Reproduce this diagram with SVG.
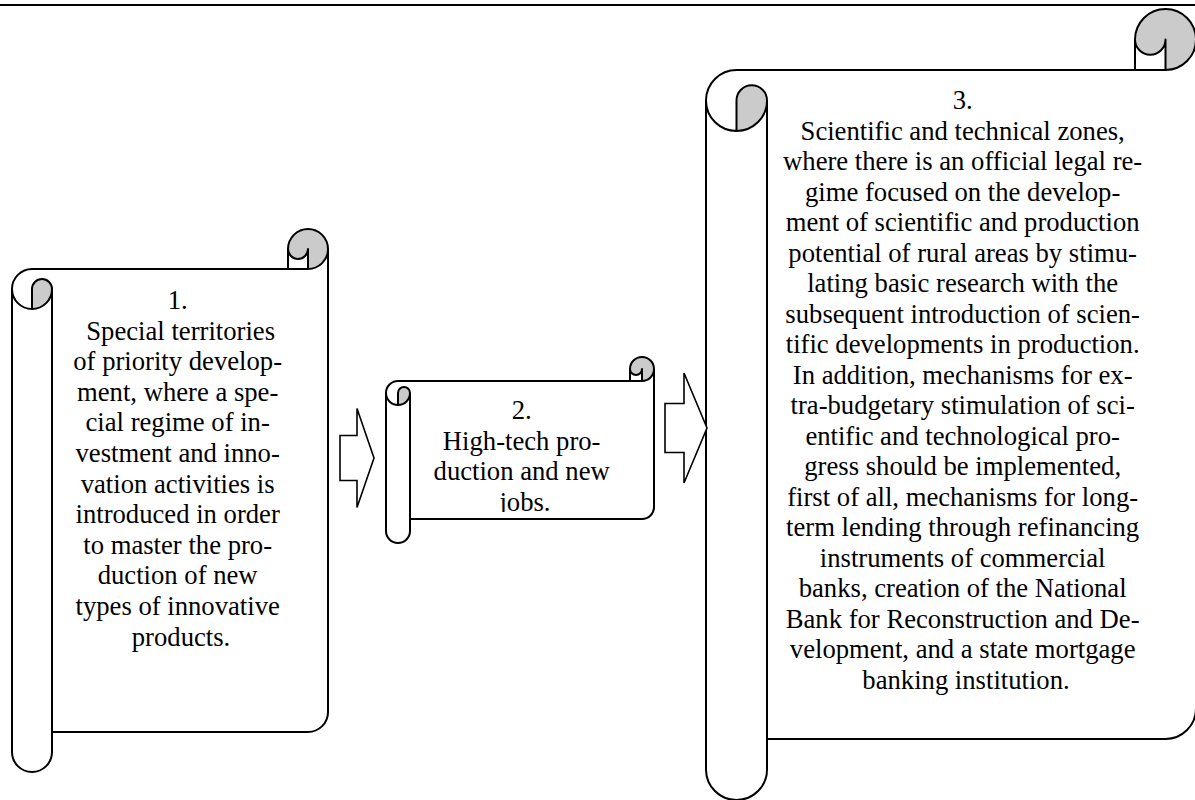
<svg xmlns="http://www.w3.org/2000/svg" width="1195" height="800" viewBox="0 0 1195 800">
<style>
.bg{fill:#ffffff;stroke:none}
.sh{fill:#cbcbcb;stroke:none}
.ol{fill:none;stroke:#000;stroke-width:2;stroke-linejoin:round}
.ar{fill:#fff;stroke:#000;stroke-width:1.6;stroke-linejoin:miter}
.t{font-family:"Liberation Serif","Times New Roman",serif;font-size:26.67px;fill:#000;text-anchor:middle}
</style>
<defs>
<clipPath id="c2"><rect x="410" y="381" width="232" height="131"/></clipPath>
</defs>
<rect width="1195" height="800" fill="#fff"/>
<line x1="0" y1="5" x2="1195" y2="5" stroke="#000" stroke-width="2"/>

<g id="node1">
<path class="bg" d="M12,289 A20,20 0 0 1 32,269 L288,269 L288,249 A20,20 0 0 1 328,249 L328,712 A20,20 0 0 1 308,732 L52,732 L52,752 A20,20 0 0 1 12,752 Z"/>
<path class="sh" d="M308,269 L308,249 A10,10 0 0 1 288,249 A20,20 0 0 1 328,249 A20,20 0 0 1 308,269 Z M32,309 L32,289 A10,10 0 0 1 52,289 A20,20 0 0 1 32,309 Z"/>
<path class="ol" d="M12,289 A20,20 0 0 1 32,269 L288,269 L288,249 A20,20 0 0 1 328,249 L328,712 A20,20 0 0 1 308,732 L52,732 L52,752 A20,20 0 0 1 12,752 Z"/>
<path class="ol" d="M288,269 L308,269 A20,20 0 0 0 328,249 M308,269 L308,249 A10,10 0 0 1 288,249 M32,309 L32,289 A10,10 0 0 1 52,289 A20,20 0 0 1 12,289 M52,289 L52,732"/>
<text class="t">
<tspan x="181" y="309">1.</tspan>
<tspan x="184" y="339.6">Special territories</tspan>
<tspan x="181" y="370.2">of priority develop-</tspan>
<tspan x="181" y="400.8">ment, where a spe-</tspan>
<tspan x="181" y="431.4">cial regime of in-</tspan>
<tspan x="181" y="462">vestment and inno-</tspan>
<tspan x="181" y="492.6">vation activities is</tspan>
<tspan x="181" y="523.2">introduced in order</tspan>
<tspan x="181" y="553.8">to master the pro-</tspan>
<tspan x="181" y="584.4">duction of new</tspan>
<tspan x="181" y="615">types of innovative</tspan>
<tspan x="181" y="645.6">products.</tspan>
</text>
</g>

<g id="node2">
<path class="bg" d="M386,393 A12,12 0 0 1 398,381 L630,381 L630,369 A12,12 0 0 1 654,369 L654,507 A12,12 0 0 1 642,519 L410,519 L410,531 A12,12 0 0 1 386,531 Z"/>
<path class="sh" d="M642,381 L642,369 A6,6 0 0 1 630,369 A12,12 0 0 1 654,369 A12,12 0 0 1 642,381 Z M398,405 L398,393 A6,6 0 0 1 410,393 A12,12 0 0 1 398,405 Z"/>
<path class="ol" d="M386,393 A12,12 0 0 1 398,381 L630,381 L630,369 A12,12 0 0 1 654,369 L654,507 A12,12 0 0 1 642,519 L410,519 L410,531 A12,12 0 0 1 386,531 Z"/>
<path class="ol" d="M630,381 L642,381 A12,12 0 0 0 654,369 M642,381 L642,369 A6,6 0 0 1 630,369 M398,405 L398,393 A6,6 0 0 1 410,393 A12,12 0 0 1 386,393 M410,393 L410,519"/>
<g clip-path="url(#c2)">
<text class="t">
<tspan x="525" y="419">2.</tspan>
<tspan x="525" y="449.6">High-tech pro-</tspan>
<tspan x="525" y="480.2">duction and new</tspan>
<tspan x="525" y="510.8">jobs.</tspan>
</text>
</g>
</g>

<g id="node3">
<path class="bg" d="M706,100.5 A30.5,30.5 0 0 1 736.5,70 L1135,70 L1135,39.5 A30.5,30.5 0 0 1 1196,39.5 L1196,708.5 A30.5,30.5 0 0 1 1165.5,739 L767,739 L767,769.5 A30.5,30.5 0 0 1 706,769.5 Z"/>
<path class="sh" d="M1165.5,70 L1165.5,39.5 A15.25,15.25 0 0 1 1135,39.5 A30.5,30.5 0 0 1 1196,39.5 A30.5,30.5 0 0 1 1165.5,70 Z M736.5,131 L736.5,100.5 A15.25,15.25 0 0 1 767,100.5 A30.5,30.5 0 0 1 736.5,131 Z"/>
<path class="ol" d="M706,100.5 A30.5,30.5 0 0 1 736.5,70 L1135,70 L1135,39.5 A30.5,30.5 0 0 1 1196,39.5 L1196,708.5 A30.5,30.5 0 0 1 1165.5,739 L767,739 L767,769.5 A30.5,30.5 0 0 1 706,769.5 Z"/>
<path class="ol" d="M1135,70 L1165.5,70 A30.5,30.5 0 0 0 1196,39.5 M1165.5,70 L1165.5,39.5 A15.25,15.25 0 0 1 1135,39.5 M736.5,131 L736.5,100.5 A15.25,15.25 0 0 1 767,100.5 A30.5,30.5 0 0 1 706,100.5 M767,100.5 L767,739"/>
<text class="t">
<tspan x="966" y="109">3.</tspan>
<tspan x="966" y="139.5">Scientific and technical zones,</tspan>
<tspan x="966" y="170">where there is an official legal re-</tspan>
<tspan x="966" y="200.5">gime focused on the develop-</tspan>
<tspan x="966" y="231">ment of scientific and production</tspan>
<tspan x="966" y="261.5">potential of rural areas by stimu-</tspan>
<tspan x="966" y="292">lating basic research with the</tspan>
<tspan x="966" y="322.5">subsequent introduction of scien-</tspan>
<tspan x="966" y="353">tific developments in production.</tspan>
<tspan x="966" y="383.5">In addition, mechanisms for ex-</tspan>
<tspan x="966" y="414">tra-budgetary stimulation of sci-</tspan>
<tspan x="966" y="444.5">entific and technological pro-</tspan>
<tspan x="966" y="475">gress should be implemented,</tspan>
<tspan x="966" y="505.5">first of all, mechanisms for long-</tspan>
<tspan x="966" y="536">term lending through refinancing</tspan>
<tspan x="966" y="566.5">instruments of commercial</tspan>
<tspan x="966" y="597">banks, creation of the National</tspan>
<tspan x="966" y="627.5">Bank for Reconstruction and De-</tspan>
<tspan x="966" y="658">velopment, and a state mortgage</tspan>
<tspan x="966" y="688.5">banking institution.</tspan>
</text>
</g>

<g id="connectors">
<polygon class="ar" points="340,435.5 357,435.5 357,408.5 374,458 357,507.5 357,480.5 340,480.5"/>
<polygon class="ar" points="665,403.5 684,403.5 684,373 707,428 684,483 684,452.5 665,452.5"/>
</g>
</svg>
